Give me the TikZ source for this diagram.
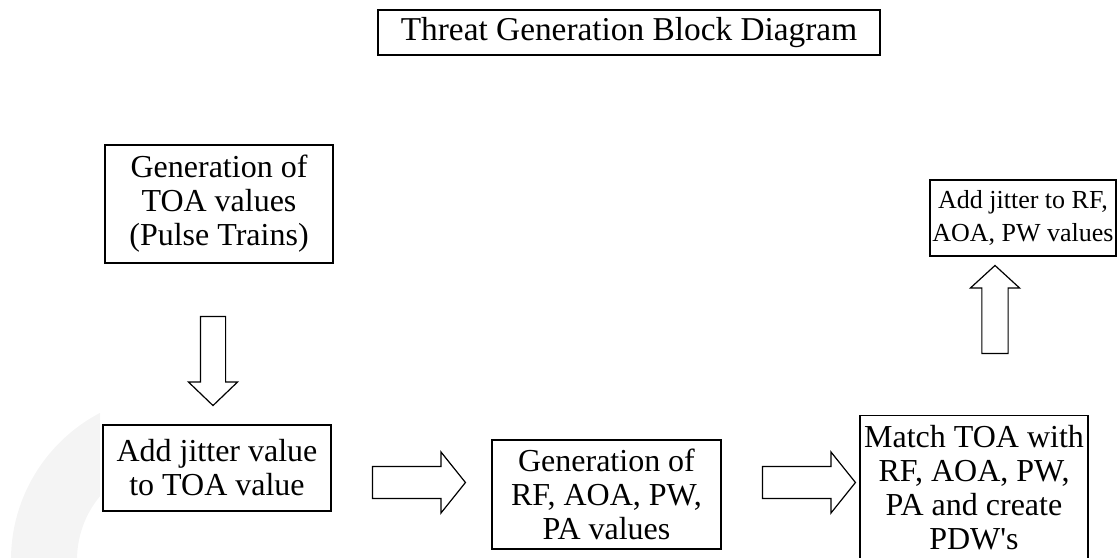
\documentclass[tikz,border=0pt]{standalone}
\usepackage{fontspec}
\setmainfont{Liberation Serif}
\usetikzlibrary{shapes.arrows}

\begin{document}
\begin{tikzpicture}[x=0.75pt,y=-0.75pt,
  blk/.style={draw, line width=0.9pt, fill=white, align=center, inner sep=0pt,
    font=\fontsize{24}{25.5}\selectfont},
  barrow/.style={single arrow, draw, line width=0.9pt, fill=white, inner sep=0pt,
    single arrow head indent=0pt}]
\useasboundingbox (0,0) rectangle (1117,557);

% faint ring in the lower left corner
\begin{scope}
  \clip (0,0) rectangle (100,557);
  \fill[gray!9, even odd rule] (177,560) circle[radius=124.5pt] (177,560) circle[radius=75pt];
\end{scope}

% title
\node[blk, minimum width=376.5pt, minimum height=33.75pt, font=\fontsize{25}{26}\selectfont] (title) at (629,32.5) {Threat Generation Block Diagram};

% blocks
\node[blk, minimum width=171pt, minimum height=88.5pt] (toa) at (219,204) {Generation of\\TOA values\\(Pulse Trains)};
\node[blk, minimum width=171pt, minimum height=64.5pt] (jit) at (217,468) {Add jitter value\\to TOA value};
\node[blk, minimum width=171.75pt, minimum height=81.75pt] (gen) at (606.5,494.5) {Generation of\\RF, AOA, PW,\\PA values};
\node[blk, minimum width=171pt, minimum height=108pt, anchor=north] (match) at (974,415) {Match TOA with\\RF, AOA, PW,\\PA and create\\PDW\textquotesingle s};
\node[blk, minimum width=139.5pt, minimum height=57pt, font=\fontsize{19.5}{25}\selectfont] (rfjit) at (1023,218) {Add jitter to RF,\\AOA, PW values};

% block arrows between the stages
\node[barrow, minimum height=66.75pt, inner xsep=9pt, single arrow head extend=9pt,
  single arrow tip angle=92.4, shape border rotate=270] (a1) at (213,355) {};
\node[barrow, minimum height=69.75pt, inner ysep=11.6pt, single arrow head extend=10.9pt,
  single arrow tip angle=102.6] (a2) at (412.5,482.5) {};
\node[barrow, minimum height=69.75pt, inner ysep=11.6pt, single arrow head extend=10.9pt,
  single arrow tip angle=102.6] (a3) at (802.5,482.5) {};
\node[barrow, minimum height=66pt, inner xsep=9.4pt, single arrow head extend=8.6pt,
  single arrow tip angle=95, shape border rotate=90] (a4) at (995,315.5) {};
\end{tikzpicture}
\end{document}
